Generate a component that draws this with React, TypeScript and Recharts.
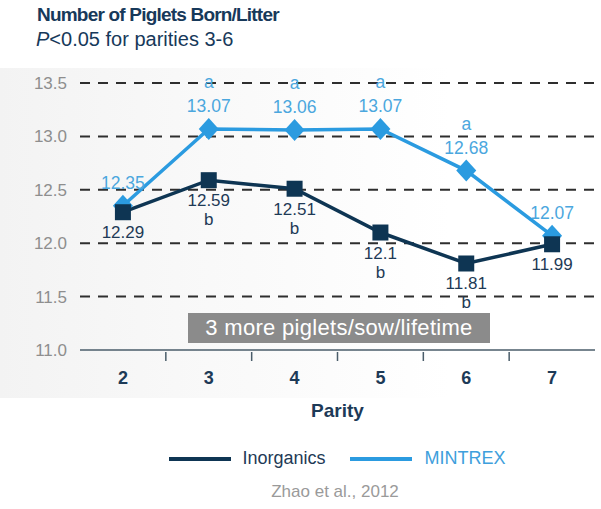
import { ComposedChart, Line, XAxis, YAxis, CartesianGrid, LabelList, Legend } from "recharts";

const parity = ["2", "3", "4", "5", "6", "7"];
const inorganics = [12.29, 12.59, 12.51, 12.1, 11.81, 11.99];
const mintrex = [12.35, 13.07, 13.06, 13.07, 12.68, 12.07];
// significance letters (P<0.05 for parities 3-6)
const inorganicsSig = ["", "b", "b", "b", "b", ""];
const mintrexSig = ["", "a", "a", "a", "a", ""];
const yTicks = [11, 11.5, 12, 12.5, 13, 13.5];

const W = 601;
const H = 509;
const MARGIN = { top: 83, right: 6, bottom: 119, left: 0 };
const Y_AXIS_W = 80;
const BAND = (W - MARGIN.left - MARGIN.right - Y_AXIS_W) / parity.length;

const NAVY = "#0e3553";
const BLUE = "#2b9be0";
const FONT = "'Liberation Sans', Arial, sans-serif";

const data = parity.map((p, i) => ({
    parity: p,
    inorganics: inorganics[i],
    mintrex: mintrex[i],
}));

const SquareDot = (props: any) => {
    const { cx, cy } = props;
    if (cx == null || cy == null) return null;
    return <rect x={cx - 8} y={cy - 8} width={16} height={16} fill={NAVY} />;
};

const DiamondDot = (props: any) => {
    const { cx, cy } = props;
    if (cx == null || cy == null) return null;
    return (
        <polygon
            points={`${cx},${cy - 11} ${cx + 10},${cy} ${cx},${cy + 11} ${cx - 10},${cy}`}
            fill={BLUE}
        />
    );
};

const ParityTick = (props: any) => {
    const { x, y, payload, index } = props;
    return (
        <g>
            {index > 0 && (
                <line x1={x - BAND / 2} x2={x - BAND / 2} y1={y + 2} y2={y + 11} stroke="#4a5d6a" strokeWidth={1.5} />
            )}
            <text x={x} y={y + 34} textAnchor="middle" fontSize={18} fontWeight="bold" fill="#1d3a57" fontFamily={FONT}>
                {payload.value}
            </text>
        </g>
    );
};

const MintrexLabel = (props: any) => {
    const { x, y, value, index } = props;
    return (
        <g fontFamily={FONT} textAnchor="middle" fontSize={17.5} fill="#4ba7de">
            <text x={x} y={y - 17}>{String(value)}</text>
            {mintrexSig[index] && <text x={x} y={y - 41}>{mintrexSig[index]}</text>}
        </g>
    );
};

const InorganicsLabel = (props: any) => {
    const { x, y, value, index } = props;
    return (
        <g fontFamily={FONT} textAnchor="middle" fontSize={17} fill="#1e3a56">
            <text x={x} y={y + 26}>{String(value)}</text>
            {inorganicsSig[index] && <text x={x} y={y + 45}>{inorganicsSig[index]}</text>}
        </g>
    );
};

const LegendContent = () => (
    <div style={{ display: "flex", justifyContent: "center", alignItems: "center", fontFamily: FONT, fontSize: 18, paddingLeft: 74 }}>
        <span style={{ display: "inline-block", width: 62, height: 4, background: NAVY, marginRight: 11 }} />
        <span style={{ color: "#1e3a56", marginRight: 24 }}>Inorganics</span>
        <span style={{ display: "inline-block", width: 62, height: 4, background: BLUE, marginRight: 13 }} />
        <span style={{ color: "#3ea0dc" }}>MINTREX</span>
    </div>
);

export default function App() {
    return (
        <div
            style={{
                position: "absolute",
                left: 0,
                top: 0,
                width: W,
                height: H,
                background: "#ffffff",
                fontFamily: FONT,
                overflow: "hidden",
            }}
        >
            <div
                style={{
                    position: "absolute",
                    left: 0,
                    top: 68,
                    width: 600,
                    height: 330,
                    background: "linear-gradient(90deg, #f3f3f3 0%, #f9f9f9 35%, rgba(255,255,255,0) 75%)",
                }}
            />
            <div style={{ position: "absolute", left: 37, top: 4, fontSize: 19, fontWeight: "bold", color: "#17395a", letterSpacing: -0.8, whiteSpace: "nowrap" }}>
                Number of Piglets Born/Litter
            </div>
            <div style={{ position: "absolute", left: 36, top: 28, fontSize: 20, color: "#17395a", whiteSpace: "nowrap" }}>
                <i>P</i>&lt;0.05 for parities 3-6
            </div>

            <ComposedChart width={W} height={H} data={data} margin={MARGIN} style={{ position: "absolute", left: 0, top: 0 }}>
                <CartesianGrid
                    vertical={false}
                    horizontalValues={yTicks.slice(1)}
                    stroke="#2e2e2e"
                    strokeWidth={2}
                    strokeDasharray="10 8"
                />
                <XAxis
                    dataKey="parity"
                    height={40}
                    padding={{ left: BAND / 2, right: BAND / 2 }}
                    axisLine={{ stroke: "#4a5d6a", strokeWidth: 1.5 }}
                    tickLine={false}
                    tickSize={0}
                    tickMargin={0}
                    tick={<ParityTick />}
                    interval={0}
                    label={{
                        value: "Parity",
                        position: "bottom",
                        offset: 14,
                        fontSize: 19,
                        fontWeight: "bold",
                        fill: "#1d3a57",
                        fontFamily: FONT,
                    }}
                />
                <YAxis
                    width={Y_AXIS_W}
                    domain={[11, 13.5]}
                    ticks={yTicks}
                    interval={0}
                    axisLine={false}
                    tickLine={false}
                    tickSize={0}
                    tickMargin={13}
                    tickFormatter={(v: number) => v.toFixed(1)}
                    tick={{ fontSize: 17, fill: "#8e8e8e", fontFamily: FONT }}
                />
                <Legend
                    layout="horizontal"
                    verticalAlign="middle"
                    align="center"
                    wrapperStyle={{ top: 448, left: 0, width: W }}
                    content={<LegendContent />}
                />
                <Line
                    dataKey="mintrex"
                    name="MINTREX"
                    stroke={BLUE}
                    strokeWidth={3.5}
                    dot={<DiamondDot />}
                    activeDot={false}
                    isAnimationActive={false}
                >
                    <LabelList dataKey="mintrex" content={<MintrexLabel />} />
                </Line>
                <Line
                    dataKey="inorganics"
                    name="Inorganics"
                    stroke={NAVY}
                    strokeWidth={3.5}
                    dot={<SquareDot />}
                    activeDot={false}
                    isAnimationActive={false}
                >
                    <LabelList dataKey="inorganics" content={<InorganicsLabel />} />
                </Line>
            </ComposedChart>

            <div
                style={{
                    position: "absolute",
                    left: 188,
                    top: 313,
                    width: 302,
                    height: 30,
                    background: "#8b8b8b",
                    color: "#ffffff",
                    fontSize: 22,
                    letterSpacing: 0.3,
                    lineHeight: "30px",
                    textAlign: "center",
                    whiteSpace: "nowrap",
                }}
            >
                3 more piglets/sow/lifetime
            </div>
            <div style={{ position: "absolute", left: 0, top: 482, width: 670, textAlign: "center", fontSize: 17, color: "#9a9a9a" }}>
                Zhao et al., 2012
            </div>
        </div>
    );
}
